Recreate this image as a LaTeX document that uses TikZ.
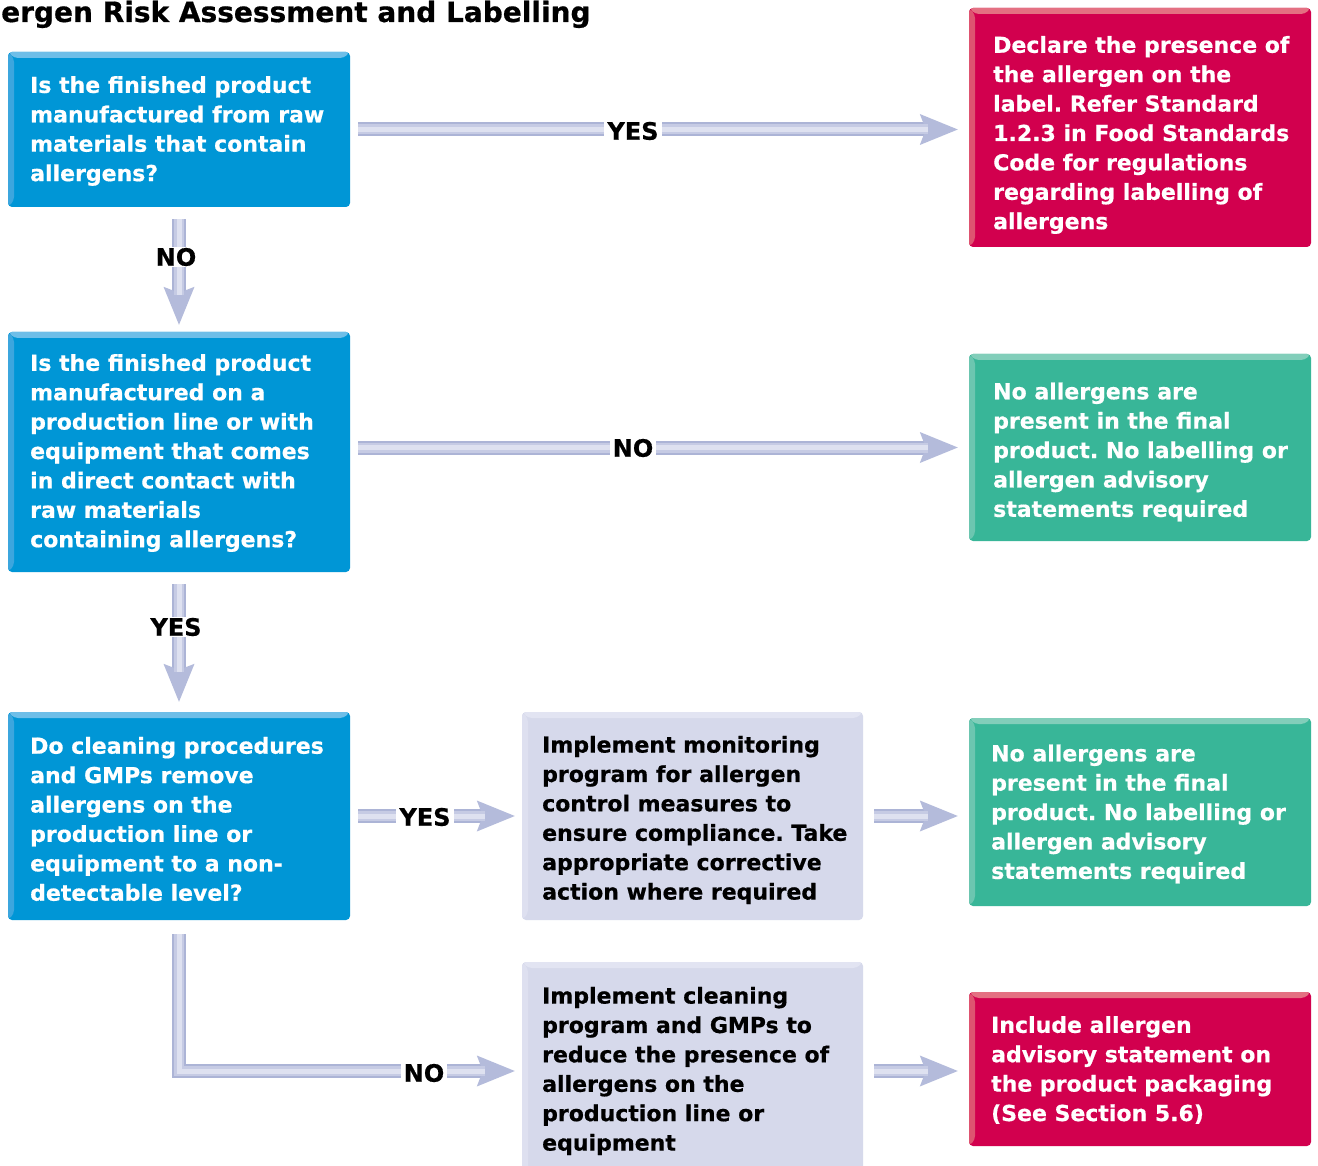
\documentclass[tikz,border=0pt]{standalone}
\usepackage{fontspec}
\setmainfont{DejaVu Sans}[BoldFeatures={FakeBold=0.6}]
\usetikzlibrary{arrows.meta}
\frenchspacing
\definecolor{cblue}{RGB}{0,150,214}
\definecolor{cbluetop}{RGB}{110,190,232}
\definecolor{cblueleft}{RGB}{60,166,222}
\definecolor{cred}{RGB}{210,0,78}
\definecolor{credtop}{RGB}{228,112,130}
\definecolor{credleft}{RGB}{222,84,112}
\definecolor{cgreen}{RGB}{56,182,152}
\definecolor{cgreentop}{RGB}{130,206,186}
\definecolor{cgreenleft}{RGB}{108,198,176}
\definecolor{clav}{RGB}{214,217,235}
\definecolor{clavtop}{RGB}{226,228,242}
\definecolor{clavleft}{RGB}{222,224,240}
\definecolor{ashaft}{RGB}{172,180,214}
\definecolor{amid}{RGB}{198,203,228}
\definecolor{ahi}{RGB}{222,225,240}
\definecolor{ahead}{RGB}{180,187,219}
\newcommand{\bevel}[2]{%
  \fill[#1] (path picture bounding box.north west) -- (path picture bounding box.north east)
    -- ([shift={(-6pt,-6pt)}]path picture bounding box.north east)
    -- ([shift={(6pt,-6pt)}]path picture bounding box.north west) -- cycle;
  \fill[#2] (path picture bounding box.north west) -- ([shift={(6pt,-6pt)}]path picture bounding box.north west)
    -- ([shift={(6pt,6pt)}]path picture bounding box.south west)
    -- (path picture bounding box.south west) -- cycle;}
\newcommand{\flowarrow}[4]{%
  \draw[shaftline, shorten <=#1, shorten >=#2] #4;
  \draw[midline, shorten <=#1, shorten >=#3] #4;
  \draw[hiline, shorten <=#1, shorten >=#3] #4;}
\tikzset{
  box/.style={rectangle, rounded corners=4pt, inner sep=0pt, minimum width=342pt},
  bluebox/.style={box, fill=cblue, path picture={\bevel{cbluetop}{cblueleft}}},
  redbox/.style={box, fill=cred, path picture={\bevel{credtop}{credleft}}},
  greenbox/.style={box, fill=cgreen, path picture={\bevel{cgreentop}{cgreenleft}}},
  lavbox/.style={box, minimum width=341pt, fill=clav, path picture={\bevel{clavtop}{clavleft}}},
  btxt/.style={anchor=west, align=left, inner sep=0pt, text=white, font=\fontsize{22}{29.4}\selectfont\bfseries},
  ktxt/.style={btxt, text=black},
  shaftline/.style={line width=14pt, draw=ashaft, line join=miter,
    -{Stealth[length=38pt,width=31pt,inset=6pt,color=ahead,line width=0pt]}},
  midline/.style={line width=10pt, draw=amid, line join=miter},
  hiline/.style={line width=5pt, draw=ahi, line join=miter},
  lbl/.style={fill=white, inner xsep=3pt, inner ysep=1pt, font=\fontsize{24}{26}\selectfont\bfseries}
}
\begin{document}
\begin{tikzpicture}[x=1pt,y=-1pt]
\fill[white] (0,0) rectangle (1318,1166);
\useasboundingbox (0,0) rectangle (1318,1166);
\node[anchor=base west, inner sep=0pt, font=\fontsize{28}{30}\selectfont\bfseries] (title) at (1,22) {ergen Risk Assessment and Labelling};
% boxes
\node[bluebox, minimum height=155pt] (B1) at (179,129.5) {};
\node[bluebox, minimum height=240pt] (B2) at (179,452) {};
\node[bluebox, minimum height=208pt] (B3) at (179,816) {};
\node[redbox, minimum height=239pt] (R1) at (1140,127.5) {};
\node[greenbox, minimum height=187pt] (G1) at (1140,447.5) {};
\node[greenbox, minimum height=188pt] (G2) at (1140,812) {};
\node[redbox, minimum height=154pt] (R2) at (1140,1069) {};
\node[lavbox, minimum height=208pt] (L1) at (692.5,816) {};
\node[lavbox, minimum height=218pt] (L2) at (692.5,1071) {};
% texts
\node[btxt] (tB1) at (30,131) {Is the finished product\\manufactured from raw\\materials that contain\\allergens?};
\node[btxt] (tB2) at (30,453) {Is the finished product\\manufactured on a\\production line or with\\equipment that comes\\in direct contact with\\raw materials\\containing allergens?};
\node[btxt] (tB3) at (30,819) {Do cleaning procedures\\and GMPs remove\\allergens on the\\production line or\\equipment to a non-\\detectable level?};
\node[btxt] (tR1) at (993,135) {Declare the presence of\\the allergen on the\\label. Refer Standard\\1.2.3 in Food Standards\\Code for regulations\\regarding labelling of\\allergens};
\node[btxt] (tG1) at (993,452) {No allergens are\\present in the final\\product. No labelling or\\allergen advisory\\statements required};
\node[btxt] (tG2) at (991,814) {No allergens are\\present in the final\\product. No labelling or\\allergen advisory\\statements required};
\node[btxt] (tR2) at (991,1070) {Include allergen\\advisory statement on\\the product packaging\\(See Section 5.6)};
\node[ktxt] (tL1) at (542,820) {Implement monitoring\\program for allergen\\control measures to\\ensure compliance. Take\\appropriate corrective\\action where required};
\node[ktxt] (tL2) at (542,1071) {Implement cleaning\\program and GMPs to\\reduce the presence of\\allergens on the\\production line or\\equipment};
% connectors
\flowarrow{8pt}{11pt}{41pt}{(B1.east) -- (B1.east -| R1.west)}
\flowarrow{8pt}{11pt}{41pt}{(G1.west -| B2.east) -- (G1.west)}
\flowarrow{12pt}{7pt}{37pt}{(B1.south) -- (B2.north)}
\flowarrow{12pt}{10pt}{40pt}{(B2.south) -- (B3.north)}
\flowarrow{8pt}{7pt}{37pt}{(B3.east) -- (L1.west)}
\flowarrow{11pt}{11pt}{41pt}{(L1.east) -- (L1.east -| G2.west)}
\flowarrow{14pt}{7pt}{37pt}{(B3.south) |- (L2.west)}
\flowarrow{11pt}{11pt}{41pt}{(L2.east) -- (L2.east -| R2.west)}
% labels
\node[lbl] (y1) at (633,131) {YES};
\node[lbl] (n1) at (633,448) {NO};
\node[lbl] (n2) at (176,257) {NO};
\node[lbl] (y2) at (176,627) {YES};
\node[lbl] (y3) at (425,817) {YES};
\node[lbl] (n3) at (424,1073) {NO};
\end{tikzpicture}
\end{document}
